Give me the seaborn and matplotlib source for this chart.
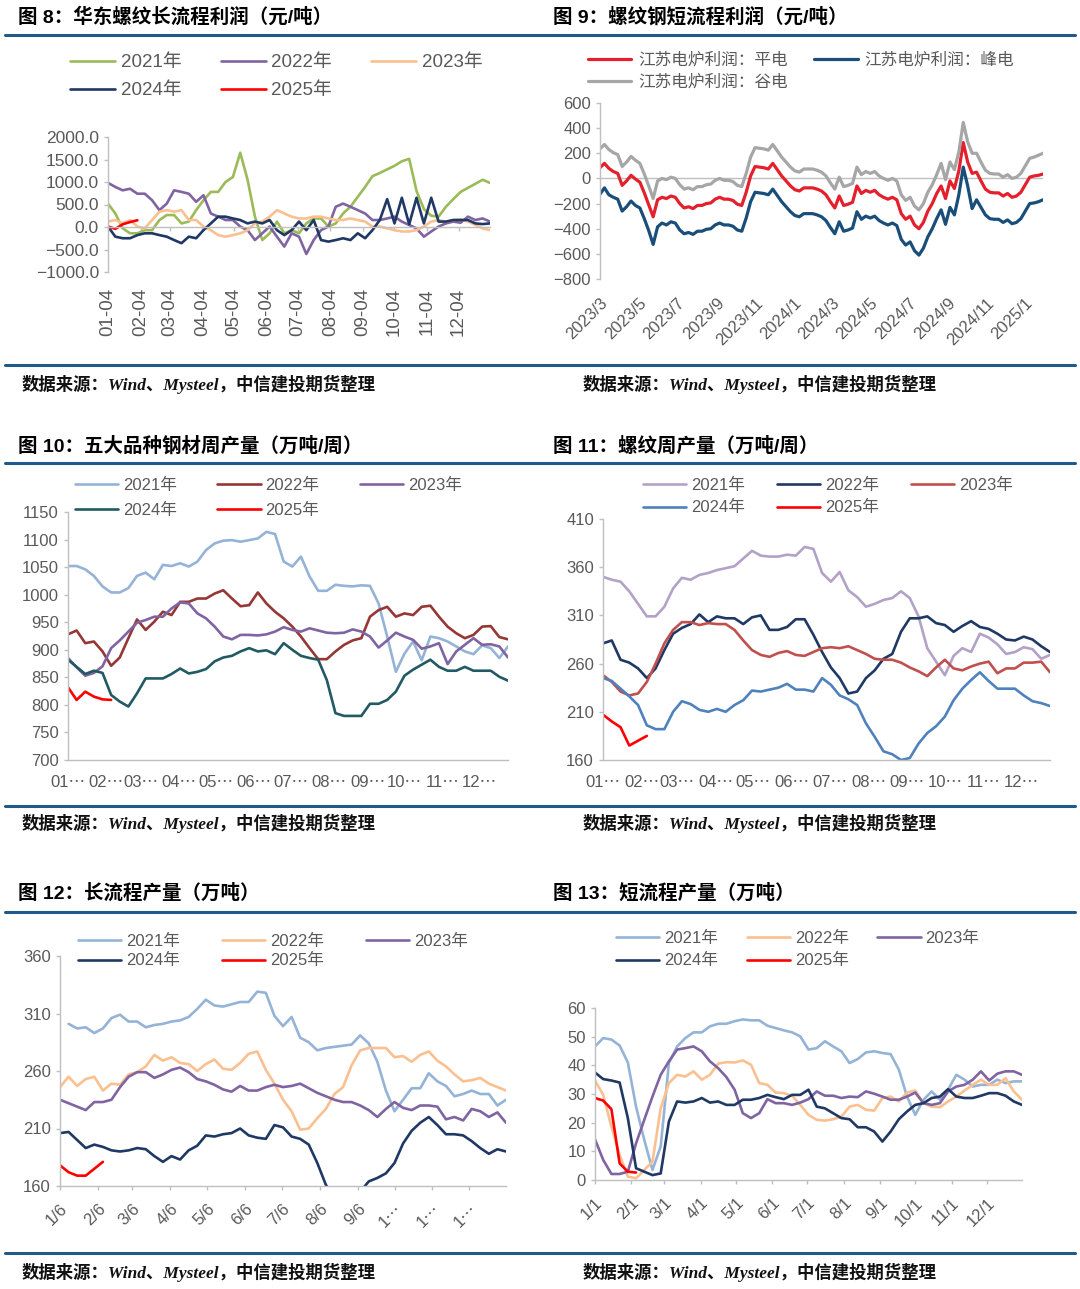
import numpy as np
import pandas as pd
import seaborn as sns
import matplotlib.pyplot as plt
from matplotlib.lines import Line2D
from matplotlib.ticker import FuncFormatter

sns.set_theme(style='white')
plt.rcParams['font.family'] = ['Liberation Sans', 'Noto Sans CJK SC', 'DejaVu Sans']

years = ['2021年', '2022年', '2023年', '2024年', '2025年']
leg_order = ['2021年', '2024年', '2022年', '2025年', '2023年']

# 图8 华东螺纹长流程利润 (weekly, from 01-04)
p8_ticks = ['01-04', '02-04', '03-04', '04-04', '05-04', '06-04',
            '07-04', '08-04', '09-04', '10-04', '11-04', '12-04']
p8_2021 = [520, 300, -30, -140, -140, -70, -70, 155, 265, 265,
           80, 120, 375, 595, 780, 780, 1000, 1110, 1650, 1050,
           230, -290, -140, 120, -140, -70, -140, 80, 190, 190,
           10, 80, 300, 450, 670, 890, 1130, 1200, 1280, 1360,
           1460, 1515, 800, 400, 250, 230, 450, 620, 780, 870,
           960, 1050, 980]
p8_2022 = [980, 890, 815, 850, 740, 740, 595, 375, 520, 815,
           780, 740, 560, 705, 300, 230, 155, 155, 10, -70,
           -290, -140, 10, -215, -435, -140, -215, -600, -290, -70,
           10, 450, 520, 450, 375, 300, 155, 155, 190, 230,
           120, 45, -30, -215, -100, 10, 80, 120, 95, 230,
           155, 190, 120]
p8_2023 = [120, 155, 80, 155, 10, -30, 155, 340, 375, 340,
           375, 155, 155, 10, -70, -180, -215, -180, -140, -70,
           80, 120, 230, 375, 300, 230, 190, 190, 230, 230,
           190, 155, 155, 190, 155, 120, 10, 10, -30, -70,
           -100, -100, -70, 10, 120, 155, 120, 155, 170, 120,
           45, -30, -70]
p8_2024 = [10, -215, -250, -250, -180, -140, -140, -180, -215, -290,
           -360, -215, -250, -70, 80, 230, 230, 190, 155, 80,
           120, 80, 155, -70, -180, -70, 120, -70, 155, -290,
           -325, -290, -250, -290, -140, -250, -70, 155, 620, 80,
           650, 60, 650, 80, 650, 120, 120, 155, 155, 155,
           80, 65, 80]
p8_2025 = [10, -40, 60, 110, 150]
p8_colors = ['#9BBB59', '#8064A2', '#FAC090', '#1F3864', '#FF0000']

# 图9 螺纹钢短流程利润 (weekly, from 2023-03)
p9_names = ['江苏电炉利润：平电', '江苏电炉利润：峰电', '江苏电炉利润：谷电']
p9_ticks = ['2023/3', '2023/5', '2023/7', '2023/9', '2023/11', '2024/1',
            '2024/3', '2024/5', '2024/7', '2024/9', '2024/11', '2025/1']
p9_flat = [85, 120, 80, 55, 40, -55, -20, 25, -5, -30,
           -115, -210, -305, -170, -150, -160, -140, -150, -200, -235,
           -225, -240, -215, -215, -200, -195, -165, -150, -165, -165,
           -175, -205, -215, -110, 20, 95, 90, 85, 75, 120,
           70, 20, -20, -60, -90, -100, -75, -75, -75, -85,
           -100, -130, -185, -235, -140, -215, -205, -190, -60, -120,
           -95, -110, -95, -130, -150, -165, -150, -170, -280, -325,
           -300, -370, -400, -350, -260, -200, -120, -60, -160, -20,
           -80, 60, 285, 130, 40, 50, -20, -85, -110, -115,
           -115, -140, -120, -150, -140, -110, -50, 10, 20, 25,
           35]
p9_peak = [-125, -75, -130, -150, -165, -260, -225, -180, -215, -235,
           -320, -415, -525, -385, -355, -370, -345, -355, -410, -440,
           -430, -445, -420, -420, -405, -400, -370, -355, -370, -370,
           -380, -410, -420, -315, -185, -110, -115, -120, -130, -85,
           -135, -185, -225, -265, -295, -305, -280, -280, -280, -290,
           -305, -335, -390, -440, -345, -420, -410, -395, -265, -325,
           -300, -315, -300, -335, -355, -370, -355, -375, -485, -530,
           -505, -575, -610, -555, -465, -400, -320, -250, -365, -230,
           -290, -130, 90, -60, -240, -170, -230, -290, -320, -325,
           -325, -350, -330, -360, -350, -320, -260, -200, -195, -185,
           -170]
p9_valley = [235, 270, 230, 205, 190, 95, 130, 175, 145, 120,
             35, -60, -160, -20, 0, -10, 10, 0, -50, -85,
             -75, -90, -65, -65, -50, -45, -15, 0, -15, -15,
             -25, -55, -65, 40, 170, 245, 240, 235, 225, 270,
             220, 170, 130, 90, 60, 50, 75, 75, 75, 65,
             50, 20, -35, -85, 10, -65, -55, -40, 90, 30,
             55, 40, 55, 20, 0, -15, 0, -20, -130, -175,
             -150, -220, -250, -200, -110, -50, 30, 120, -10, 130,
             70, 210, 445, 290, 200, 200, 130, 65, 40, 35,
             35, 10, 30, 0, 10, 40, 100, 160, 170, 185,
             200]
p9_colors = ['#E3202B', '#1A4E7A', '#A6A6A6']

# 图10 五大品种钢材周产量
month_ticks = ['01⋯', '02⋯', '03⋯', '04⋯', '05⋯', '06⋯',
               '07⋯', '08⋯', '09⋯', '10⋯', '11⋯', '12⋯']
p10_2021 = [1052, 1052, 1046, 1034, 1015, 1004, 1004, 1012, 1034, 1040,
            1028, 1054, 1052, 1057, 1051, 1060, 1081, 1093, 1098, 1099,
            1096, 1099, 1102, 1114, 1110, 1060, 1051, 1069, 1033, 1007,
            1007, 1018, 1016, 1015, 1017, 1016, 984, 924, 860, 893,
            915, 881, 924, 921, 915, 906, 897, 892, 908, 903,
            885, 906]
p10_2022 = [928, 935, 912, 915, 897, 871, 886, 921, 955, 936,
            951, 969, 963, 987, 987, 993, 993, 1002, 1008, 993,
            979, 981, 1004, 984, 969, 957, 942, 924, 903, 883,
            883, 897, 909, 917, 921, 960, 972, 978, 960, 966,
            963, 978, 980, 960, 942, 930, 921, 927, 942, 943,
            923, 919]
p10_2023 = [885, 868, 853, 858, 870, 903, 917, 933, 949, 954,
            960, 960, 975, 986, 984, 966, 957, 942, 924, 919,
            927, 927, 926, 928, 933, 941, 936, 933, 939, 935,
            931, 930, 931, 937, 933, 924, 904, 917, 931, 924,
            918, 902, 906, 912, 874, 897, 909, 921, 909, 910,
            906, 886]
p10_2024 = [882, 869, 856, 862, 858, 818, 806, 797, 821, 848,
            848, 848, 856, 866, 857, 860, 865, 879, 886, 889,
            897, 903, 897, 899, 892, 912, 900, 889, 885, 882,
            845, 785, 780, 780, 780, 802, 802, 809, 824, 853,
            864, 873, 882, 869, 862, 862, 869, 862, 862, 862,
            851, 844]
p10_2025 = [832, 809, 824, 815, 810, 809]
p10_colors = ['#95B3D7', '#953735', '#8064A2', '#215A62', '#FF0000']

# 图11 螺纹周产量
p11_2021 = [350, 347, 345, 335, 322, 309, 309, 319, 338, 349,
            347, 352, 354, 357, 359, 361, 369, 377, 372, 371,
            371, 373, 372, 381, 379, 354, 345, 355, 336, 329,
            319, 322, 326, 328, 335, 328, 309, 276, 262, 248,
            268, 276, 272, 291, 287, 280, 270, 272, 277, 275,
            265, 269]
p11_2022 = [281, 284, 264, 261, 255, 245, 255, 274, 291, 297,
            301, 311, 303, 309, 307, 307, 301, 308, 310, 295,
            295, 298, 306, 306, 290, 272, 256, 245, 229, 231,
            245, 253, 265, 270, 293, 307, 307, 309, 302, 300,
            293, 299, 304, 298, 296, 291, 285, 284, 288, 285,
            278, 272]
p11_2023 = [248, 241, 231, 227, 229, 241, 260, 281, 295, 303,
            303, 300, 302, 301, 301, 295, 284, 274, 269, 267,
            271, 273, 269, 268, 272, 276, 277, 276, 278, 274,
            270, 265, 264, 264, 261, 256, 252, 247, 256, 264,
            255, 253, 257, 260, 262, 250, 255, 255, 261, 261,
            262, 251]
p11_2024 = [245, 242, 234, 226, 217, 196, 192, 192, 210, 221,
            218, 212, 210, 213, 210, 217, 222, 232, 231, 233,
            235, 239, 233, 233, 231, 245, 238, 227, 223, 217,
            198, 184, 169, 166, 160, 162, 177, 188, 195, 205,
            222, 234, 243, 251, 242, 234, 234, 234, 227, 221,
            219, 216]
p11_2025 = [207, 200, 194, 175, 180, 185]
p11_colors = ['#B3A2C7', '#1F3864', '#C0504D', '#4F81BD', '#FF0000']

# 图12 长流程产量
p12_ticks = ['1/6', '2/6', '3/6', '4/6', '5/6', '6/6',
             '7/6', '8/6', '9/6', '1⋯', '1⋯', '1⋯']
p12_2021 = [np.nan, 301, 297, 298, 293, 297, 306, 309, 303, 303, 298,
            300, 301, 303, 304, 307, 314, 322, 317, 316, 318,
            320, 320, 329, 328, 308, 299, 307, 289, 285, 278,
            280, 281, 282, 283, 291, 284, 268, 243, 225, 235,
            245, 245, 258, 251, 247, 238, 240, 243, 240, 240,
            230, 235]
p12_2022 = [246, 255, 247, 253, 255, 243, 249, 248, 257, 259,
            264, 274, 269, 272, 267, 266, 260, 266, 270, 262,
            261, 267, 275, 277, 261, 249, 235, 225, 209, 210,
            219, 227, 240, 246, 265, 278, 280, 280, 280, 272,
            273, 268, 274, 277, 269, 264, 257, 251, 252, 254,
            249, 246, 243]
p12_2023 = [235, 232, 229, 226, 233, 233, 235, 246, 255, 259,
            259, 254, 257, 261, 263, 259, 253, 251, 248, 244,
            242, 247, 243, 243, 246, 248, 246, 247, 249, 245,
            241, 238, 235, 233, 233, 230, 226, 220, 227, 233,
            228, 226, 230, 230, 229, 218, 220, 217, 227, 225,
            220, 224, 215]
p12_2024 = [206, 207, 200, 193, 196, 194, 191, 190, 191, 193,
            192, 186, 181, 186, 183, 191, 195, 204, 203, 205,
            206, 210, 204, 202, 201, 213, 211, 203, 201, 196,
            180, 161, 150, 142, 145, 155, 164, 167, 171, 180,
            197, 208, 215, 220, 213, 205, 205, 204, 199, 193,
            188, 192, 190]
p12_2025 = [178, 172, 169, 169, 175, 181]
p12_colors = ['#95B3D7', '#FAC090', '#8064A2', '#1F3864', '#FF0000']

# 图13 短流程产量
p13_ticks = ['1/1', '2/1', '3/1', '4/1', '5/1', '6/1',
             '7/1', '8/1', '9/1', '10/1', '11/1', '12/1']
p13_2021 = [46.6, 49.5, 49, 46.9, 41, 25.6, 14, 3.5, 11.7, 40.8,
            46.6, 49.5, 51.5, 51.5, 53.6, 54.5, 54.5, 55.4, 56, 55.7,
            55.7, 53.8, 53, 52.2, 51.5, 50.1, 45.5, 46, 48.4, 46.6,
            44.9, 40.8, 42.2, 44.5, 44.9, 44.3, 43.9, 38.5, 29.1, 22.7,
            28, 30.9, 28, 31.5, 36.7, 35, 32.6, 33.2, 33.2, 35,
            33.8, 34.4, 34.4]
p13_2022 = [34.7, 29.7, 18.6, 8.7, 1.2, 0.6, 3.5, 6.4, 25, 33.8,
            36.7, 36.1, 37.9, 35, 36.7, 40.6, 41.1, 41, 41.7, 40.2,
            33.8, 33.2, 30.5, 30.3, 29.4, 26.2, 22.7, 21, 20.7, 21.2,
            22.1, 25.6, 26.2, 24.5, 24.2, 28.6, 29.1, 27.4, 30.5, 31.2,
            26.8, 25.6, 25.4, 27.4, 29.1, 31.2, 33.2, 35, 33.2, 33.2,
            35.5, 30.9, 28]
p13_2023 = [14.2, 7, 2.1, 2.1, 2.9, 12.8, 21, 29.1, 36.7, 41.4,
            45.5, 46, 46.6, 44.9, 41.4, 39, 35.9, 31.5, 23.3, 21.6,
            23.3, 28.2, 26.8, 26.8, 26.2, 27, 28.2, 30.9, 29.4, 29.4,
            28.6, 29.1, 28.9, 30.9, 30.1, 29.1, 28, 28, 29.1, 30.5,
            26.8, 26.2, 26.8, 30.9, 32.6, 33.2, 35, 37.9, 34.7, 37.1,
            37.9, 37.9, 36.7]
p13_2024 = [37.5, 35.2, 34.7, 34, 21.6, 4.1, 2.9, 1.7, 2.3, 20.4,
            27.4, 27, 27.4, 28.6, 27, 27.4, 26.2, 26.2, 28, 28,
            28.6, 29.7, 28.9, 28.2, 29.7, 29.7, 31.5, 25.6, 25, 23.3,
            21.6, 21.2, 18.4, 18.4, 16.9, 13.4, 16.9, 21.2, 23.9, 26.2,
            26.8, 28.6, 29.1, 31.7, 29.1, 28.6, 28.6, 29.4, 30.3, 30.3,
            29.4, 27.4, 26.2]
p13_2025 = [28.6, 27.7, 24.7, 5.8, 2.9, 2.6]
p13_colors = p12_colors

titles = ['图 8：华东螺纹长流程利润（元/吨）', '图 9：螺纹钢短流程利润（元/吨）',
          '图 10：五大品种钢材周产量（万吨/周）', '图 11：螺纹周产量（万吨/周）',
          '图 12：长流程产量（万吨）', '图 13：短流程产量（万吨）']
source = '数据来源：Wind、Mysteel，中信建投期货整理'

TXT = '#595959'
SPINE = '#BFBFBF'
RULE = '#1F5A8A'
W, H = 1080, 1289

fig = plt.figure(figsize=(W / 100, H / 100), dpi=100)


def px_box(l, t, r, b):
    return [l / W, 1 - b / H, (r - l) / W, (b - t) / H]


def draw(ax, x, series, colors, names, lw=1.9):
    for vals, c, n in zip(series, colors, names):
        sns.lineplot(x=x[:len(vals)], y=vals, ax=ax, color=c, lw=lw, label=n)


def style(ax, fs):
    sns.despine(ax=ax)
    for s in ['left', 'bottom']:
        ax.spines[s].set_color(SPINE)
        ax.spines[s].set_linewidth(1)
    ax.tick_params(axis='both', labelsize=fs, labelcolor=TXT, color=SPINE,
                   length=3, width=1, left=True, bottom=True)
    ax.set_xlabel('')
    ax.set_ylabel('')


def legend(ax, order, x, y, ncol, fs, hl, hp, cs, ls):
    h, l = ax.get_legend_handles_labels()
    idx = [l.index(o) for o in order]
    ax.legend([h[i] for i in idx], [l[i] for i in idx], loc='upper left',
              bbox_to_anchor=(x / W, 1 - y / H), bbox_transform=fig.transFigure,
              ncol=ncol, frameon=False, fontsize=fs, labelcolor=TXT,
              handlelength=hl, handletextpad=hp, columnspacing=cs,
              labelspacing=ls, borderpad=0, borderaxespad=0)


# ---- 图8
ax8 = fig.add_axes(px_box(108, 137, 490, 272))
d8 = pd.date_range('2021-01-04', periods=53, freq='7D')
draw(ax8, d8, [p8_2021, p8_2022, p8_2023, p8_2024, p8_2025], p8_colors, years)
style(ax8, 12.5)
ax8.spines['bottom'].set_position(('data', 0))
ax8.set_ylim(-1000, 2000)
ax8.set_yticks(range(-1000, 2001, 500))
ax8.yaxis.set_major_formatter(FuncFormatter(lambda v, p: f'{v:.1f}'.replace('-', '\u2212')))
ax8.set_xlim(d8[0], d8[-1])
ax8.set_xticks(pd.to_datetime(['2021-' + t for t in p8_ticks]))
ax8.set_xticklabels(p8_ticks, rotation=90, va='top', ha='center')
ax8.tick_params(axis='both', labelcolor=TXT, color=SPINE, length=3)
ax8.tick_params(axis='x', labelsize=13.5, pad=41)
ax8.tick_params(axis='y', labelsize=12.5)
legend(ax8, leg_order, 70, 54, 3, 13.5, 2.4, 0.3, 2.1, 0.6)

# ---- 图9
ax9 = fig.add_axes(px_box(600, 103, 1043, 279))
d9 = pd.date_range('2023-03-01', periods=len(p9_flat), freq='7D')
draw(ax9, d9, [p9_flat, p9_peak, p9_valley], p9_colors, p9_names, lw=2.3)
ax9.axhline(0, color=SPINE, lw=1, zorder=0)
ax9.set_ylim(-800, 600)
ax9.set_yticks(range(-800, 601, 200))
ax9.set_xlim(d9[0], d9[-1])
ax9.set_xticks(pd.to_datetime([t + '/1' for t in p9_ticks], format='%Y/%m/%d'))
ax9.set_xticklabels(p9_ticks, rotation=45, ha='right', va='top', rotation_mode='anchor')
style(ax9, 12)
ax9.spines['bottom'].set_visible(False)
ax9.tick_params(axis='x', length=0, pad=12)
legend(ax9, [p9_names[0], p9_names[2], p9_names[1]], 588, 52, 2, 12, 2.6, 0.4, 1.6, 0.4)

# ---- 图10
ax10 = fig.add_axes(px_box(68, 512, 508, 760))
d10 = pd.date_range('2021-01-01', periods=52, freq='7D')
draw(ax10, d10, [p10_2021, p10_2022, p10_2023, p10_2024, p10_2025], p10_colors, years)
ax10.set_ylim(700, 1150)
ax10.set_yticks(range(700, 1151, 50))
ax10.set_xlim(d10[0], d10[-1])
ax10.set_xticks(pd.date_range('2021-01-01', periods=12, freq='MS'))
ax10.set_xticklabels(month_ticks)
style(ax10, 12)
ax10.tick_params(axis='x', length=0, pad=11)
legend(ax10, leg_order, 75, 478, 3, 12, 2.6, 0.3, 2.4, 0.6)

# ---- 图11
ax11 = fig.add_axes(px_box(603, 519, 1050, 760))
draw(ax11, d10, [p11_2021, p11_2022, p11_2023, p11_2024, p11_2025], p11_colors, years)
ax11.set_ylim(160, 410)
ax11.set_yticks(range(160, 411, 50))
ax11.set_xlim(d10[0], d10[-1])
ax11.set_xticks(pd.date_range('2021-01-01', periods=12, freq='MS'))
ax11.set_xticklabels(month_ticks)
style(ax11, 12)
ax11.tick_params(axis='x', length=0, pad=11)
legend(ax11, leg_order, 643, 478, 3, 12, 2.6, 0.3, 1.9, 0.43)

# ---- 图12
ax12 = fig.add_axes(px_box(60, 956, 506, 1186))
d12 = pd.date_range('2021-01-06', periods=53, freq='7D')
draw(ax12, d12, [p12_2021, p12_2022, p12_2023, p12_2024, p12_2025], p12_colors, years)
ax12.set_ylim(160, 360)
ax12.set_yticks(range(160, 361, 50))
ax12.set_xlim(d12[0], d12[-1])
ax12.set_xticks(pd.date_range('2021-01-01', periods=12, freq='MS') + pd.Timedelta(days=5))
ax12.set_xticklabels(p12_ticks, rotation=45, ha='right', va='top', rotation_mode='anchor')
style(ax12, 12)
ax12.tick_params(axis='x', pad=8)
legend(ax12, leg_order, 78, 934, 3, 12, 2.6, 0.3, 2.5, 0.25)

# ---- 图13
ax13 = fig.add_axes(px_box(595, 1008, 1022, 1180))
d13 = pd.date_range('2021-01-01', periods=53, freq='7D')
draw(ax13, d13, [p13_2021, p13_2022, p13_2023, p13_2024, p13_2025], p13_colors, years)
ax13.set_ylim(0, 60)
ax13.set_yticks(range(0, 61, 10))
ax13.set_xlim(d13[0], d13[-1])
ax13.set_xticks(pd.date_range('2021-01-01', periods=12, freq='MS'))
ax13.set_xticklabels(p13_ticks, rotation=45, ha='right', va='top', rotation_mode='anchor')
style(ax13, 12)
ax13.tick_params(axis='x', pad=8)
legend(ax13, leg_order, 616, 931, 3, 12, 2.6, 0.3, 1.7, 0.43)

# ---- titles, rules, sources
title_pos = [(18, 17), (553, 17), (18, 446), (553, 446), (18, 893), (553, 893)]
for (x, y), t in zip(title_pos, titles):
    fig.text(x / W, 1 - y / H, t, fontsize=14, fontweight='bold', va='center', ha='left', color='black')
for y in [35, 365, 463, 806, 912, 1253]:
    fig.add_artist(Line2D([5 / W, 1075 / W], [1 - y / H] * 2, color=RULE, lw=2.2))
for x in [22, 583]:
    for y in [384, 823, 1272]:
        fig.text(x / W, 1 - y / H, source, fontsize=12.5, fontweight='bold', style='italic',
                 family=['Liberation Serif', 'Noto Sans CJK SC'], va='center', ha='left', color='#111111')

fig.savefig('out.png', dpi=100)
